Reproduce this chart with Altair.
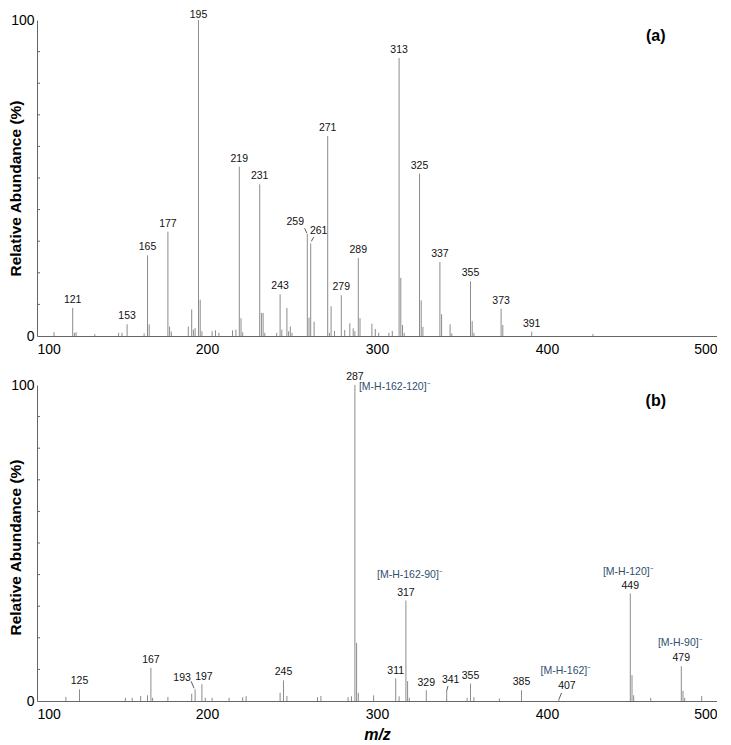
import altair as alt
import pandas as pd

# ---------------- data ----------------
X_TICKS = [100, 200, 300, 400, 500]
Y_TICKS = [0, 10, 20, 30, 40, 50, 60, 70, 80, 90, 100]

# panel (a)
A_MZ = [110, 121, 122, 123, 134, 148, 150, 153, 163, 165, 166, 177, 178, 179, 189, 191, 192, 193,
        195, 196, 197, 203, 205, 207, 215, 217, 219, 220, 221, 231, 232, 233, 234, 241, 243, 244,
        247, 248, 249, 250, 259, 260, 261, 263, 271, 272, 273, 275, 279, 281, 284, 286, 287, 289,
        290, 297, 299, 301, 307, 309, 313, 314, 315, 316, 325, 326, 327, 337, 338, 343, 344, 355,
        356, 357, 373, 374, 391, 427]
A_AB = [1.2, 8.9, 1.0, 1.2, 0.6, 1.0, 1.0, 3.7, 0.8, 25.5, 3.7, 33.0, 3.0, 1.4, 3.0, 8.4, 2.0, 2.5,
        100, 11.5, 1.5, 1.5, 1.8, 1.0, 1.8, 2.0, 53.6, 5.6, 1.2, 48.0, 7.3, 7.3, 1.0, 1.0, 13.2, 2.0,
        8.9, 1.5, 3.0, 1.0, 32.3, 5.8, 29.3, 4.5, 63.3, 1.0, 9.4, 1.6, 12.9, 1.9, 4.0, 2.4, 1.5, 24.7,
        5.6, 3.9, 2.2, 1.0, 1.0, 1.6, 88.0, 18.4, 3.5, 1.0, 51.4, 11.3, 2.9, 23.4, 6.9, 3.7, 0.8, 17.3,
        4.7, 1.0, 8.6, 3.5, 1.4, 0.6]
A_LABELS = [121, 153, 165, 177, 195, 219, 231, 243, 259, 261, 271, 279, 289, 313, 325, 337, 355,
            373, 391]

# panel (b)
B_MZ = [117, 125, 152, 156, 161, 165, 167, 168, 177, 191, 193, 197, 199, 203, 213, 221, 223, 243,
        245, 247, 265, 267, 283, 285, 287, 288, 289, 298, 311, 313, 317, 318, 319, 329, 341, 353,
        355, 357, 372, 385, 407, 449, 450, 451, 461, 479, 480, 481, 491]
B_AB = [1.3, 3.7, 1.0, 1.0, 1.6, 1.8, 10.5, 1.0, 1.3, 2.3, 3.7, 5.3, 1.0, 1.0, 1.0, 1.2, 1.5, 2.6,
        6.5, 1.6, 1.2, 1.6, 1.2, 1.5, 100, 18.4, 2.6, 1.8, 7.2, 1.5, 31.8, 6.3, 1.0, 3.4, 3.2, 1.0,
        5.5, 1.2, 0.8, 3.4, 0.5, 34.0, 8.2, 1.8, 1.0, 11.0, 3.2, 1.0, 1.6]
B_LABELS = [125, 167, 193, 197, 245, 287, 311, 317, 329, 341, 355, 385, 407, 449, 479]
B_ANNOT_MZ = [287, 317, 407, 449, 479]
B_ANNOT_TEXT = ["[M-H-162-120]⁻", "[M-H-162-90]⁻", "[M-H-162]⁻", "[M-H-120]⁻", "[M-H-90]⁻"]

# ---------------- styling ----------------
FONT = "Liberation Sans"
W, H = 680, 316
PEAK_COLOR = "#8c8c8c"
ANNOT_COLOR = "#2f4f6f"

# per-label text offsets (dx, dy) in pixels; default (0, -5)
A_OFFSETS = {195: (0, -2), 259: (-12, -9), 261: (8, -9)}
B_OFFSETS = {193: (-13, -8), 197: (2, -4), 341: (4, -8), 407: (8, -10), 311: (0, -4),
             329: (0, -4)}
# leader lines: (x_off1, y_off1, x_off2, y_off2) relative to peak top
A_LEADERS = {259: (-2.7, -5.7, -0.4, -0.7), 261: (3, -6.3, 0.6, -2)}
B_LEADERS = {193: (-4, -8, -1, -1), 341: (1.3, -5, 0, 0), 407: (2.6, -6.5, 0, 0)}
# annotation offsets
B_ANNOT_OFF = {287: (4, 5, "left"), 317: (4, -23, "center"), 407: (7, -25, "center"),
               449: (-2, -19, "center"), 479: (-1, -20, "center")}


def panel(mz, ab, labels, offsets, leaders, tag, title_y, show_xtitle,
          annot_mz=None, annot_text=None, annot_off=None):
    df = pd.DataFrame({"mz": mz, "ab": ab})
    lab_df = df[df["mz"].isin(labels)].copy()
    lab_df["lab"] = lab_df["mz"].astype(str)

    xs = alt.Scale(domain=[100, 500], nice=False, zero=False)
    ys = alt.Scale(domain=[0, 100], nice=False)
    x_axis = alt.Axis(values=X_TICKS, ticks=False, labelFontSize=14, labelPadding=6,
                      labelFont=FONT, labelColor="#000", domainColor="#666",
                      grid=False, title="m/z" if show_xtitle else None,
                      titleFont=FONT, titleFontSize=16, titleFontWeight="bold",
                      titleFontStyle="italic", titlePadding=5, titleColor="#000")
    y_axis = alt.Axis(values=Y_TICKS, ticks=False, labelFontSize=14, labelPadding=3,
                      labelFont=FONT, labelColor="#000", domainColor="#666", grid=False,
                      labelExpr="datum.value == 0 || datum.value == 100 ? datum.label : ''",
                      title="Relative Abundance (%)", titleFont=FONT, titleFontSize=15.5,
                      titleFontWeight="bold", titleColor="#000", titleX=-21.5,
                      titleY=title_y, titleBaseline="middle", titleAngle=-90)

    sticks = alt.Chart(df).mark_rule(color=PEAK_COLOR, strokeWidth=1).encode(
        x=alt.X("mz:Q", scale=xs, axis=x_axis),
        y=alt.Y("ab:Q", scale=ys, axis=y_axis),
        y2=alt.datum(0),
    )

    ytick_df = pd.DataFrame({"v": Y_TICKS[1:-1]})
    yticks = alt.Chart(ytick_df).mark_rule(color="#666", strokeWidth=1).encode(
        y=alt.Y("v:Q", scale=ys), x=alt.value(0), x2=alt.value(3))

    layers = [sticks, yticks]

    default = lab_df[~lab_df["mz"].isin(list(offsets.keys()))]
    base_text = dict(font=FONT, fontSize=10.5, color="#111", baseline="alphabetic")
    layers.append(alt.Chart(default).mark_text(dy=-5, **base_text).encode(
        x=alt.X("mz:Q", scale=xs), y=alt.Y("ab:Q", scale=ys), text="lab:N"))
    for m, (dx, dy) in offsets.items():
        sub = lab_df[lab_df["mz"] == m]
        layers.append(alt.Chart(sub).mark_text(dx=dx, dy=dy, **base_text).encode(
            x=alt.X("mz:Q", scale=xs), y=alt.Y("ab:Q", scale=ys), text="lab:N"))
    for m, (x1, y1, x2, y2) in leaders.items():
        sub = lab_df[lab_df["mz"] == m]
        layers.append(alt.Chart(sub).mark_rule(
            color="#333", strokeWidth=0.8, xOffset=x1, yOffset=y1, x2Offset=x2, y2Offset=y2
        ).encode(x=alt.X("mz:Q", scale=xs), y=alt.Y("ab:Q", scale=ys),
                 x2="mz:Q", y2="ab:Q"))

    if annot_mz:
        adf = pd.DataFrame({"mz": annot_mz, "txt": annot_text})
        adf = adf.merge(df, on="mz")
        for m in annot_mz:
            dx, dy, al = annot_off[m]
            sub = adf[adf["mz"] == m]
            layers.append(alt.Chart(sub).mark_text(
                dx=dx, dy=dy, align=al, font=FONT, fontSize=10.5, color=ANNOT_COLOR,
                baseline="alphabetic").encode(
                x=alt.X("mz:Q", scale=xs), y=alt.Y("ab:Q", scale=ys), text="txt:N"))

    tag_df = pd.DataFrame({"t": [tag]})
    layers.append(alt.Chart(tag_df).mark_text(
        font=FONT, fontSize=16, fontWeight="bold", color="#000", baseline="middle"
    ).encode(x=alt.datum(464, scale=xs), y=alt.datum(95, scale=ys), text="t:N"))

    return alt.layer(*layers).properties(width=W, height=H)


top = panel(A_MZ, A_AB, A_LABELS, A_OFFSETS, A_LEADERS, "(a)", 168, False)
bottom = panel(B_MZ, B_AB, B_LABELS, B_OFFSETS, B_LEADERS, "(b)", 162, True,
               B_ANNOT_MZ, B_ANNOT_TEXT, B_ANNOT_OFF)

chart = alt.vconcat(top, bottom, spacing=49, bounds="flush").properties(
    padding={"left": 0, "top": 2, "right": 0, "bottom": 0}, background="white"
).configure_view(stroke=None, strokeWidth=0)

chart.save("out.html", embed_options={"renderer": "svg", "actions": False})
